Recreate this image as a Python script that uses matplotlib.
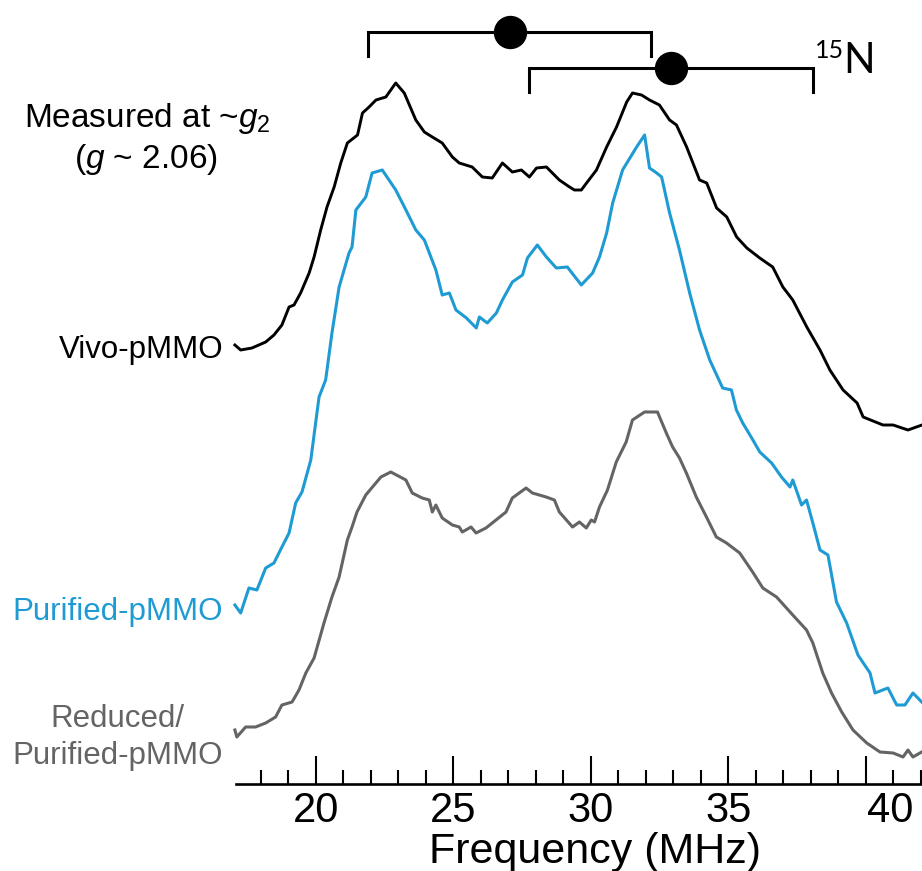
import matplotlib

matplotlib.use("Agg")
import matplotlib.pyplot as plt
import matplotlib.transforms as mtransforms
import numpy as np

plt.rcParams["font.family"] = ["Liberation Sans", "DejaVu Sans"]
plt.rcParams["mathtext.fontset"] = "custom"
plt.rcParams["mathtext.rm"] = "Liberation Sans"
plt.rcParams["mathtext.it"] = "Liberation Sans:italic"

# ENDOR spectra, stacked (signal in arbitrary units, offsets included)
vivo_freq = [17.06, 17.27, 17.68, 18.18, 18.48, 18.77, 19.03, 19.21, 19.45, 19.76,
             19.94, 20.18, 20.41, 20.67, 20.91, 21.15, 21.52, 21.70, 21.94, 22.19,
             22.55, 22.91, 23.22, 23.64, 23.95, 24.24, 24.60, 24.97, 25.22, 25.69,
             26.06, 26.42, 26.79, 27.15, 27.48, 27.77, 28.03, 28.39, 28.86, 29.23,
             29.41, 29.66, 29.85, 30.21, 30.58, 30.94, 31.31, 31.52, 31.85, 32.14,
             32.50, 32.87, 33.12, 33.49, 33.96, 34.22, 34.58, 34.95, 35.31, 35.68,
             36.15, 36.62, 36.99, 37.35, 37.86, 38.34, 38.70, 39.18, 39.69, 39.91,
             40.63, 41.00, 41.54, 42.05]
vivo_signal = [439, 434, 436, 442, 449, 459, 477, 479, 491, 511,
               527, 554, 577, 597, 621, 641, 649, 671, 677, 684,
               687, 701, 691, 664, 652, 647, 641, 627, 621, 617,
               607, 606, 621, 612, 614, 607, 616, 617, 604, 597,
               594, 594, 601, 614, 637, 657, 682, 691, 689, 684,
               679, 664, 659, 637, 604, 601, 576, 567, 547, 536,
               526, 517, 497, 484, 457, 434, 414, 394, 381, 367,
               359, 359, 354, 359]

purified_freq = [17.06, 17.27, 17.57, 17.86, 18.18, 18.48, 18.77, 19.03, 19.27, 19.50,
                 19.82, 20.12, 20.36, 20.59, 20.85, 21.21, 21.32, 21.46, 21.82, 22.05,
                 22.42, 22.91, 23.28, 23.64, 23.95, 24.37, 24.60, 24.86, 25.10, 25.48,
                 25.84, 25.95, 26.24, 26.57, 26.79, 27.15, 27.52, 27.70, 28.06, 28.39,
                 28.75, 29.15, 29.66, 30.07, 30.32, 30.58, 30.80, 31.16, 31.67, 31.96,
                 32.14, 32.40, 32.58, 32.87, 33.23, 33.60, 33.96, 34.33, 34.80, 35.12,
                 35.30, 35.53, 35.90, 36.15, 36.58, 36.94, 37.25, 37.35, 37.67, 37.85,
                 38.08, 38.34, 38.63, 38.94, 39.31, 39.72, 40.16, 40.34, 40.81, 41.13,
                 41.43, 41.72, 42.04]
purified_signal = [179, 171, 196, 194, 216, 221, 237, 251, 281, 292,
                   324, 387, 404, 451, 497, 531, 537, 574, 587, 611,
                   614, 594, 574, 554, 544, 514, 489, 491, 474, 466,
                   456, 467, 461, 471, 484, 502, 509, 526, 539, 527,
                   516, 517, 499, 511, 527, 551, 581, 614, 637, 649,
                   616, 611, 607, 571, 534, 491, 454, 424, 396, 394,
                   374, 361, 344, 332, 321, 307, 297, 304, 279, 284,
                   261, 234, 229, 182, 161, 129, 111, 91, 96, 79,
                   79, 91, 82]

reduced_freq = [17.06, 17.13, 17.45, 17.81, 18.18, 18.54, 18.77, 19.14, 19.39, 19.64,
                19.94, 20.30, 20.59, 20.85, 21.15, 21.32, 21.50, 21.82, 22.37, 22.73,
                23.28, 23.51, 23.87, 24.13, 24.24, 24.37, 24.60, 24.97, 25.22, 25.33,
                25.65, 25.83, 26.19, 26.42, 26.92, 27.15, 27.65, 27.88, 28.38, 28.68,
                28.86, 29.34, 29.59, 29.84, 30.02, 30.14, 30.32, 30.61, 30.93, 31.29,
                31.52, 31.96, 32.43, 32.75, 32.98, 33.23, 33.48, 33.84, 34.21, 34.57,
                34.94, 35.42, 35.89, 36.26, 36.76, 37.35, 37.85, 38.08, 38.44, 38.76,
                39.13, 39.54, 40.04, 40.52, 41.00, 41.36, 41.54, 41.72, 42.04]
reduced_signal = [54, 47, 57, 57, 61, 67, 79, 82, 94, 111,
                  126, 161, 187, 207, 244, 257, 272, 289, 307, 312,
                  304, 291, 286, 284, 272, 279, 266, 259, 257, 252,
                  257, 251, 256, 261, 272, 286, 296, 291, 287, 284,
                  272, 257, 262, 256, 264, 262, 277, 294, 322, 342,
                  364, 372, 372, 351, 337, 326, 311, 287, 267, 247,
                  241, 231, 212, 196, 187, 169, 154, 141, 111, 91,
                  72, 54, 41, 32, 31, 27, 34, 27, 32]

# 15N hyperfine doublets: (low line, centre, high line) in MHz
n15_doublets = [(21.90, 27.05, 32.20), (27.77, 32.93, 38.07)]
n15_heights = [752, 716]

major_ticks = [20, 25, 30, 35, 40]
minor_ticks = np.arange(18, 43)

BLUE = "#1f9bd4"
GRAY = "#646464"

W, H = 922, 871
fig = plt.figure(figsize=(W / 100, H / 100), dpi=100)
ax = fig.add_axes([236 / W, 87 / H, (W - 236) / W, 784 / H])
ax.set_xlim(17.1, 42.05)
ax.set_ylim(0, 784)

ax.plot(vivo_freq, vivo_signal, color="black", lw=2.1, clip_on=False)
ax.plot(purified_freq, purified_signal, color=BLUE, lw=2.2, clip_on=False)
ax.plot(reduced_freq, reduced_signal, color=GRAY, lw=2.2, clip_on=False)

# stick diagrams for the 15N couplings
for (lo, mid, hi), h in zip(n15_doublets, n15_heights):
    ax.plot([lo, lo, hi, hi], [h - 24, h, h, h - 24], color="black", lw=2.2,
            solid_joinstyle="miter", clip_on=False)
    ax.plot(mid, h, "o", color="black", ms=23, clip_on=False)

for side in ("left", "right", "top"):
    ax.spines[side].set_visible(False)
ax.spines["bottom"].set_linewidth(1.9)
ax.set_yticks([])
ax.set_xticks(major_ticks)
ax.set_xticks(minor_ticks, minor=True)
ax.tick_params(axis="x", which="major", direction="in", length=20, width=1.5,
               labelsize=30, pad=5)
ax.tick_params(axis="x", which="minor", direction="in", length=10, width=1.5)

fig.canvas.draw()
last = ax.get_xticklabels()[-1]
last.set_transform(last.get_transform()
                   + mtransforms.ScaledTranslation(0.25, 0, fig.dpi_scale_trans))


def fpx(x, y):
    return x / W, 1 - y / H


fig.text(*fpx(595, 863), "Frequency (MHz)", fontsize=31, ha="center", va="baseline")

fig.text(*fpx(147, 127), r"Measured at ~$\it{g}_2$", fontsize=24, ha="center",
         va="baseline")
fig.text(*fpx(146, 168), r"($\it{g}$ ~ 2.06)", fontsize=24, ha="center",
         va="baseline")
fig.text(*fpx(223, 358), "Vivo-pMMO", fontsize=22.5, ha="right", va="baseline")
fig.text(*fpx(223, 620), "Purified-pMMO", fontsize=22.5, ha="right",
         va="baseline", color=BLUE)
fig.text(*fpx(117, 727), "Reduced/", fontsize=22.5, ha="center", va="baseline",
         color=GRAY)
fig.text(*fpx(223, 764), "Purified-pMMO", fontsize=22.5, ha="right",
         va="baseline", color=GRAY)

fig.text(*fpx(815, 58), "15", fontsize=18, ha="left", va="baseline",
         family=["Lato", "DejaVu Sans"])
fig.text(*fpx(843, 73), "N", fontsize=30, ha="left", va="baseline",
         family=["Lato", "DejaVu Sans"])

fig.savefig("out.png", dpi=100)
